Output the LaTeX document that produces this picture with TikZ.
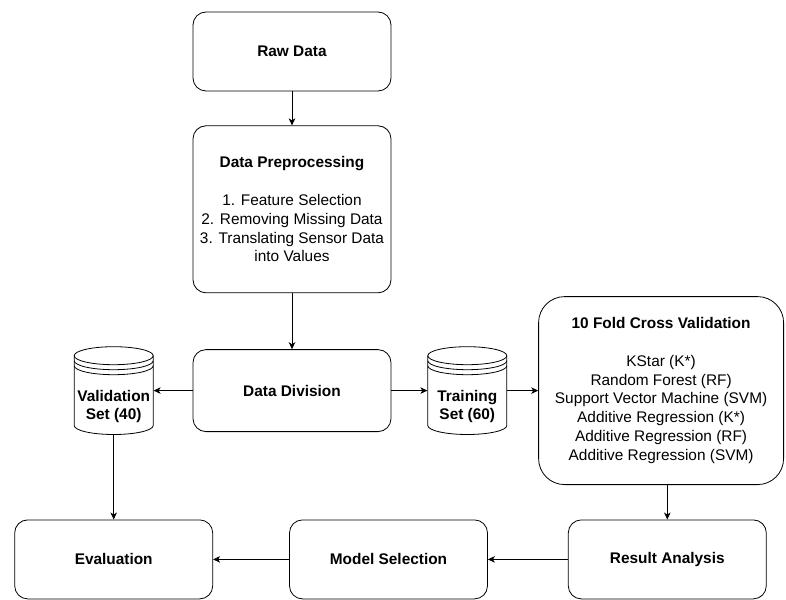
\documentclass[tikz,border=0pt]{standalone}
\usepackage{fontspec}
\setmainfont{Liberation Sans}
\usepackage{tikz}
\usetikzlibrary{arrows.meta}
\usetikzlibrary{positioning}

\begin{document}
\begin{tikzpicture}[>={Stealth[length=7pt,width=6.5pt,inset=2pt]},line width=0.8pt,every node/.style={font=\fontsize{15.4}{18.8}\selectfont},
	box/.style={draw,rounded corners=13pt,minimum width=198pt,minimum height=79pt,align=center,inner sep=2pt},
	store/.style={minimum width=79pt,minimum height=87pt,align=center,inner sep=0pt,font=\fontsize{15.4}{18.8}\selectfont\bfseries}] 

	\path[use as bounding box,fill=white] (-292pt,51.5pt) rectangle (494pt,-547.5pt);

	\node[box] (raw)                        {\textbf{Raw Data}}; 
	\node[box,minimum height=167pt] (pre) [below=34pt of raw] {\textbf{Data Preprocessing}\\[18.8pt]1. Feature Selection\\2. Removing Missing Data\\3. Translating Sensor Data\\into Values}; 
	\node[box,minimum height=82pt] (div) [below=56pt of pre] {\textbf{Data Division}}; 
         \node[store] (val) [left=39pt of div] {\rule{0pt}{43pt}Validation\\Set (40)};
         \node[store] (train) [right=36pt of div] {\rule{0pt}{43pt}Training\\Set (60)};
         \node[box,minimum width=245pt,minimum height=188pt,rounded corners=26pt] (cv) [right=31pt of train] {\textbf{10 Fold Cross Validation}\\[18.8pt]KStar (K*)\\Random Forest (RF)\\Support Vector Machine (SVM)\\Additive Regression (K*)\\Additive Regression (RF)\\Additive Regression (SVM)};
         \node[box] (eval) [below=85pt of val] {\textbf{Evaluation}};
         \node[box] (model) [right=76pt of eval] {\textbf{Model Selection}};
         \node[box] (res) [right=80pt of model] {\textbf{Result Analysis}};

	% datastore outlines
	\foreach \n in {val,train}{
		\draw ([xshift=-39.5pt,yshift=-9pt]\n.north) -- ([xshift=-39.5pt,yshift=9pt]\n.south)
			arc[start angle=180,end angle=360,x radius=39.5pt,y radius=9pt]
			-- ([xshift=39.5pt,yshift=-9pt]\n.north);
		\draw ([yshift=-9pt]\n.north) ellipse[x radius=39.5pt,y radius=9pt];
		\foreach \d in {14pt,19pt}
			\draw ([xshift=-39.5pt,yshift=-\d]\n.north) arc[start angle=180,end angle=360,x radius=39.5pt,y radius=9pt];
	}

	\path[->] (raw) edge (pre)
	          (pre) edge (div)
	          (div) edge (val)
	                edge (train)
	          (train) edge (cv)
	          (cv.south -| res.north) edge (res.north)
	          (res) edge (model)
	          (model) edge (eval)
	          (val) edge (eval);
                      
\end{tikzpicture}
\end{document}
